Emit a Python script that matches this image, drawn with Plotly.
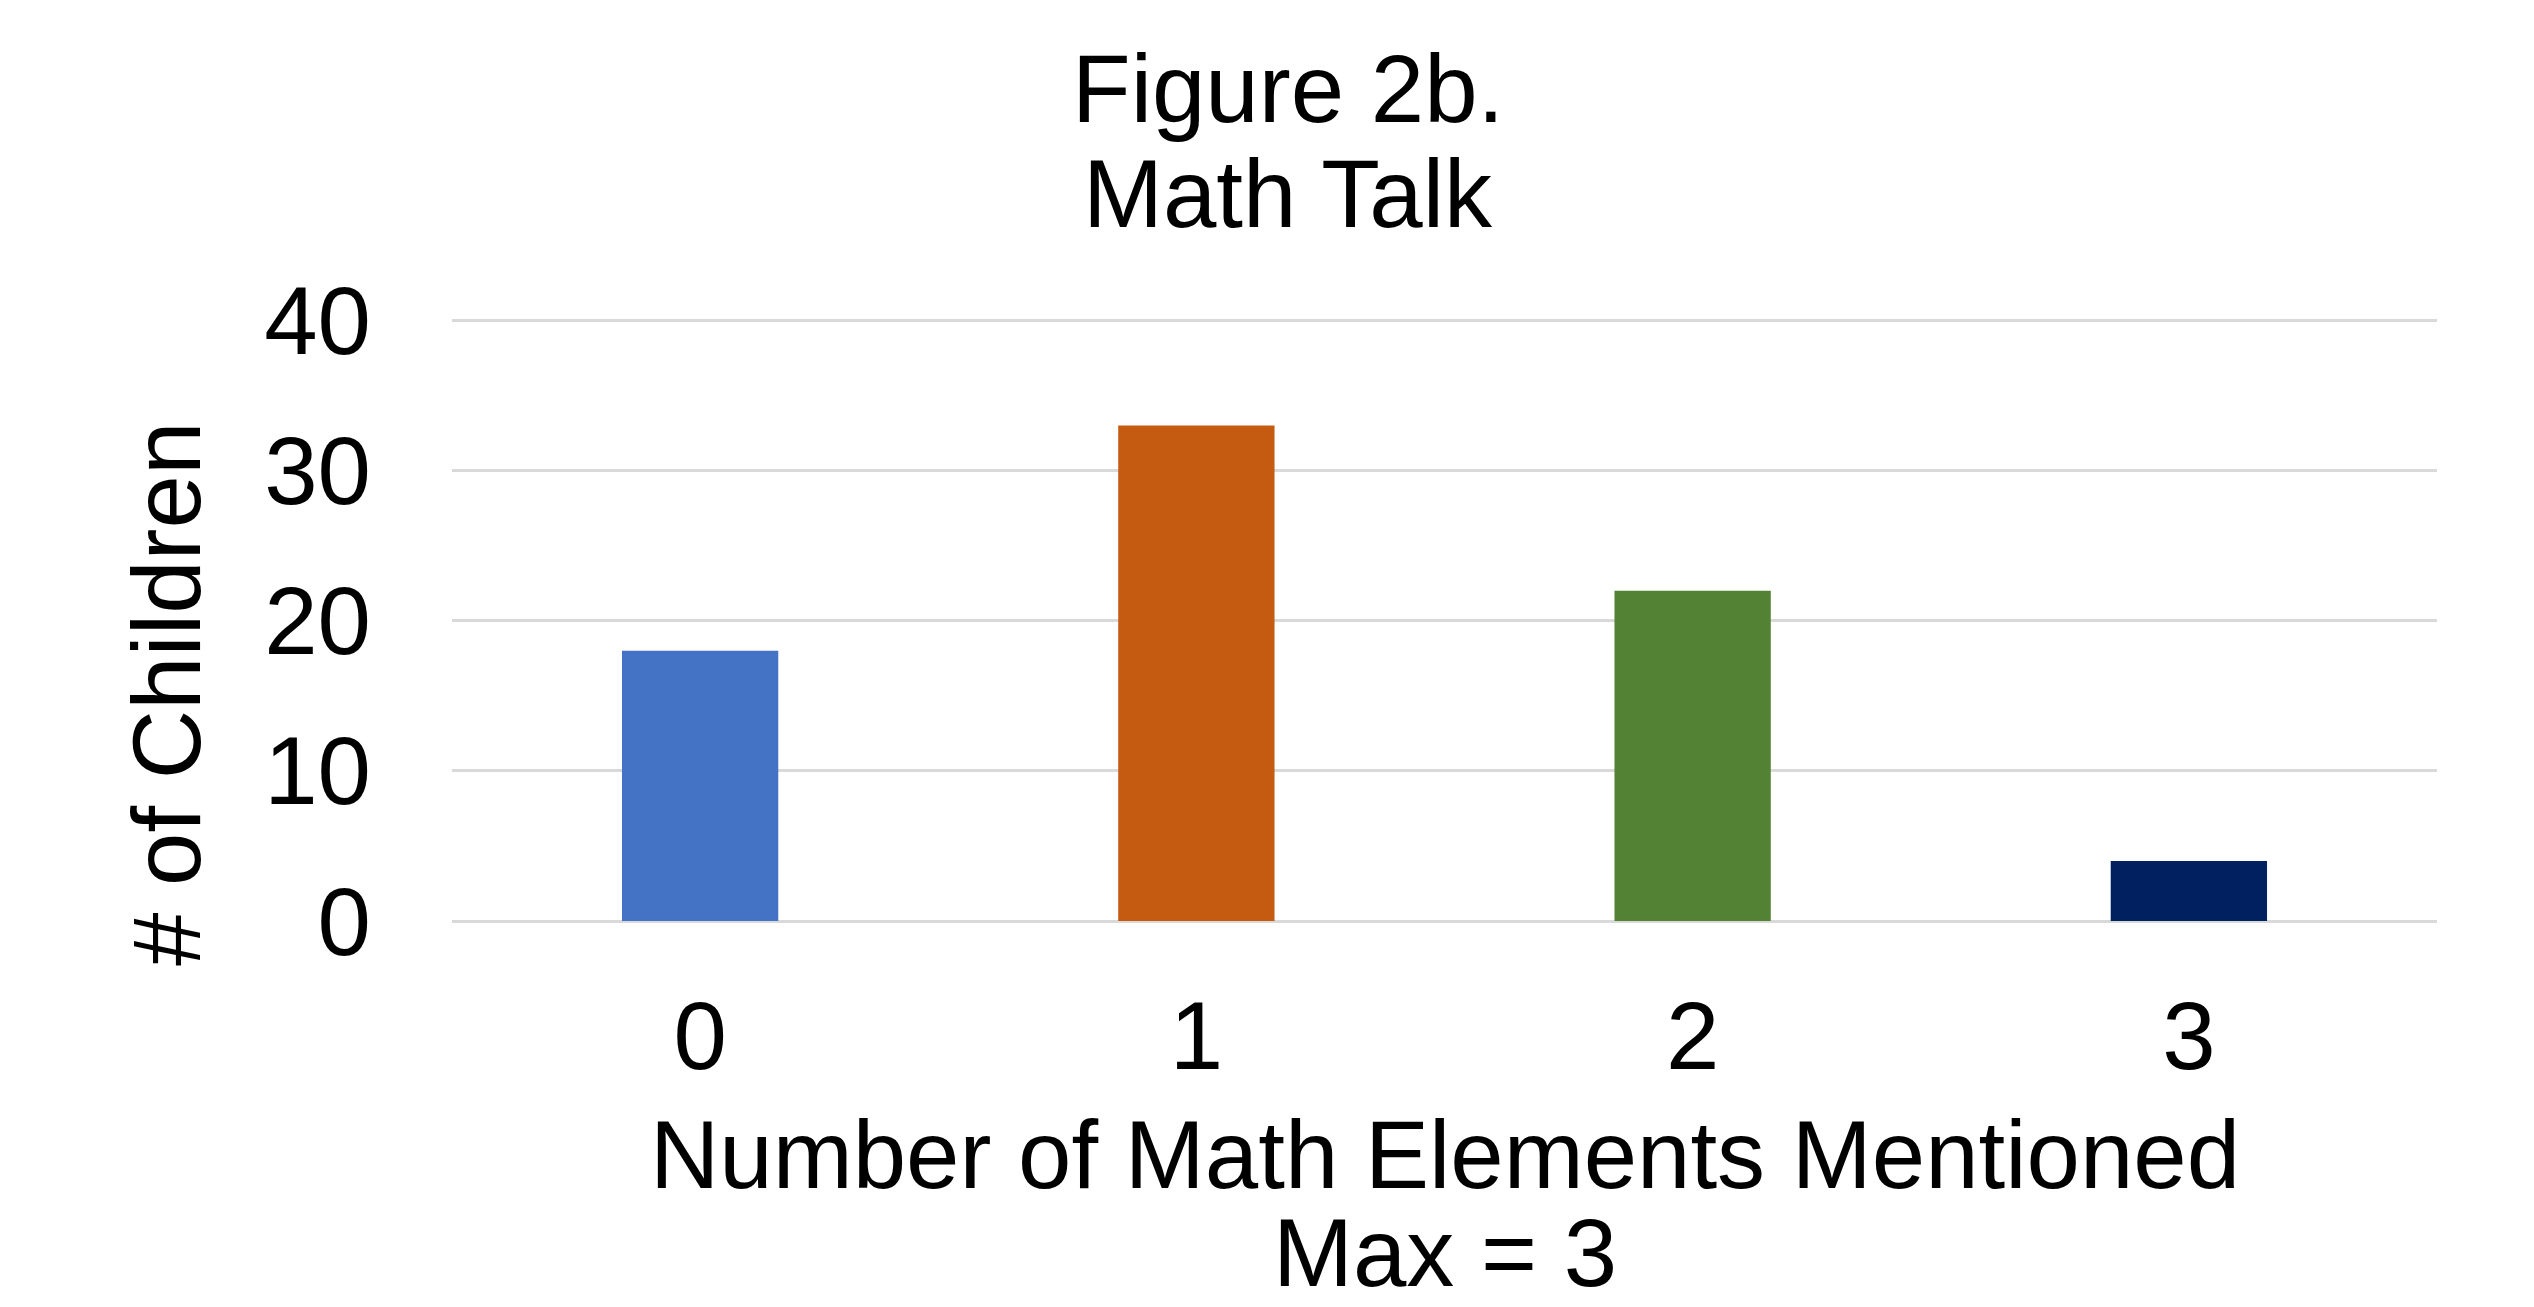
import plotly.graph_objects as go

# Number of math elements a child mentioned, and how many children did so
categories = ["0", "1", "2", "3"]
children = [18, 33, 22, 4]
bar_colors = ["#4472C4", "#C55A11", "#548235", "#002060"]
y_ticks = [0, 10, 20, 30, 40]

title_lines = ["Figure 2b.", "Math Talk"]
x_title_lines = ["Number of Math Elements Mentioned", "Max = 3"]
y_title = "# of Children"

FONT = "Liberation Sans, Arial, sans-serif"
TEXT_SIZE = 96
W, H = 2534, 1307
L, R, T, B = 452, 97, 319, 386
plot_h = H - T - B


def paper_y(px):
    """Convert a pixel row of the page into paper coordinates."""
    return (H - B - px) / plot_h


def paper_x(px):
    return (px - L) / (W - L - R)


fig = go.Figure(
    go.Bar(
        x=categories,
        y=children,
        marker=dict(color=bar_colors, line=dict(width=0)),
        width=0.315,
        hoverinfo="x+y",
    )
)

text_font = dict(family=FONT, size=TEXT_SIZE, color="#000000")
annotations = []
# Two-line chart title, tight line spacing
for text, cy in zip(title_lines, [88, 193]):
    annotations.append(dict(
        text=text, xref="paper", yref="paper",
        x=paper_x(1288), y=paper_y(cy), xanchor="center", yanchor="middle",
        showarrow=False, font=text_font,
    ))
# Two-line x-axis title
for text, cy in zip(x_title_lines, [1154, 1252]):
    annotations.append(dict(
        text=text, xref="paper", yref="paper",
        x=0.5, y=paper_y(cy), xanchor="center", yanchor="middle",
        showarrow=False, font=text_font,
    ))
# Vertical y-axis title
annotations.append(dict(
    text=y_title, xref="paper", yref="paper", textangle=-90,
    x=paper_x(166), y=paper_y(694), xanchor="center", yanchor="middle",
    showarrow=False, font=text_font,
))

fig.update_layout(
    width=W, height=H,
    margin=dict(l=L, r=R, t=T, b=B, pad=0),
    paper_bgcolor="#FFFFFF",
    plot_bgcolor="#FFFFFF",
    showlegend=False,
    font=dict(family=FONT, color="#000000"),
    annotations=annotations,
    xaxis=dict(
        type="category",
        tickfont=dict(family=FONT, size=96, color="#000000"),
        ticks="", showgrid=False, showline=False, zeroline=False,
        ticklabelstandoff=51,
    ),
    yaxis=dict(
        range=[0, 40.1],
        tickvals=y_ticks,
        tickfont=dict(family=FONT, size=96, color="#000000"),
        ticks="", showline=False,
        showgrid=True, gridcolor="#D9D9D9", gridwidth=2.5,
        zeroline=True, zerolinecolor="#D9D9D9", zerolinewidth=2.5,
        ticklabelstandoff=80,
    ),
)

fig.write_html("out.html")
